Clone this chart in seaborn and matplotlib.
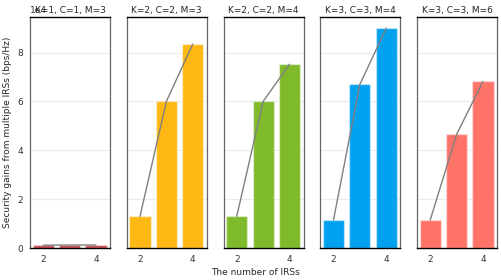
import numpy as np
import pandas as pd
import matplotlib
matplotlib.use('Agg')
import matplotlib.pyplot as plt
import seaborn as sns

# data
irs_counts = [2, 3, 4]
titles = ['K=1, C=1, M=3', 'K=2, C=2, M=3', 'K=2, C=2, M=4', 'K=3, C=3, M=4', 'K=3, C=3, M=6']
gains_k1c1m3 = [1200, 1250, 1250]
gains_k2c2m3 = [13000, 60000, 83500]
gains_k2c2m4 = [13000, 60000, 75200]
gains_k3c3m4 = [11500, 67000, 90000]
gains_k3c3m6 = [11500, 46500, 68200]
bar_colors = ['#C8454E', '#FDB813', '#7FBA2A', '#00A1EF', '#FF7468']

all_gains = [gains_k1c1m3, gains_k2c2m3, gains_k2c2m4, gains_k3c3m4, gains_k3c3m6]

sns.set_style('white')
plt.rcParams['font.family'] = ['DejaVu Sans']

fig, axes = plt.subplots(1, 5, figsize=(5.01, 2.8), dpi=100, sharey=True)
fig.subplots_adjust(left=0.06, right=0.992, top=0.939, bottom=0.114, wspace=0.21)

for ax, title, gains, color in zip(axes, titles, all_gains, bar_colors):
    df = pd.DataFrame({'irs': irs_counts, 'gain': gains})
    ax.yaxis.grid(True, color='#ebebeb', linewidth=0.8, zorder=0)
    ax.set_axisbelow(True)
    sns.barplot(data=df, x='irs', y='gain', native_scale=True, color=color,
                width=0.8, saturation=1, edgecolor=(1, 1, 1, 0.45), linewidth=1.0, ax=ax, zorder=2)
    sns.lineplot(data=df, x='irs', y='gain', color='gray', linewidth=1.0, ax=ax, zorder=3)
    # fixed y keeps the title on the same line as the 1e4 offset text
    ax.set_title(title, fontsize=6.5, pad=3, y=1.0)
    ax.set_xlim(1.5, 4.53)
    ax.set_xticks([2, 4])
    ax.set_xlabel('')
    ax.set_ylabel('')
    ax.tick_params(axis='both', labelsize=6.5, length=3, width=0.8, colors='#333333', pad=2)
    for side in ['left', 'right']:
        ax.spines[side].set_color('#666666')
        ax.spines[side].set_linewidth(0.9)
    for side in ['top', 'bottom']:
        ax.spines[side].set_color('black')
        ax.spines[side].set_linewidth(1.0)

axes[0].set_ylim(0, 94500)
axes[0].set_yticks([0, 20000, 40000, 60000, 80000])
axes[0].ticklabel_format(axis='y', style='sci', scilimits=(4, 4))
axes[0].yaxis.get_offset_text().set_fontsize(6.5)
axes[0].set_ylabel('Security gains from multiple IRSs (bps/Hz)', fontsize=6.5, labelpad=4)
fig.text(0.51, 0.01, 'The number of IRSs', ha='center', va='bottom', fontsize=6.5)

fig.savefig('out.png', dpi=100)
